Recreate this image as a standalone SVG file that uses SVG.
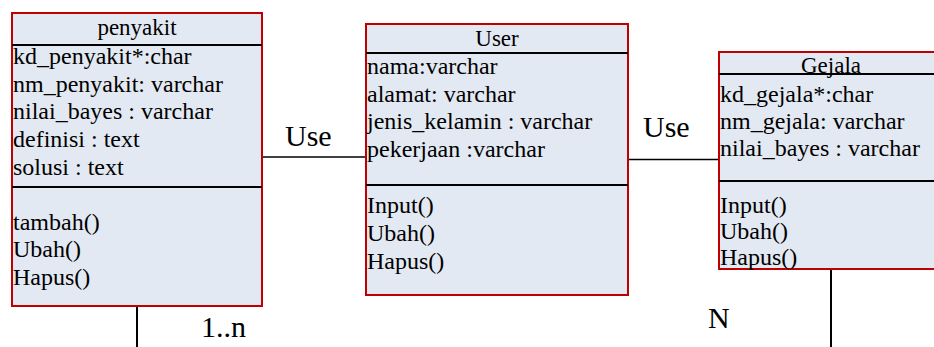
<svg xmlns="http://www.w3.org/2000/svg" width="934" height="347" viewBox="0 0 934 347">
<style>
.box{fill:#e3e9f2;stroke:#c00000;stroke-width:2}
.div{stroke:#000;stroke-width:2}
.t{font-family:"Liberation Serif","Times New Roman",serif;font-size:24px;fill:#000}
.c{text-anchor:middle;font-size:23px}
.lbl{font-family:"Liberation Serif","Times New Roman",serif;font-size:30px;fill:#000}
.ln{stroke:#000;stroke-width:1.3;fill:none}
</style>
<rect width="934" height="347" fill="#fff"/>
<g id="connectors">
<line class="ln" x1="262" y1="157" x2="366" y2="157"/>
<line class="ln" x1="628" y1="159.5" x2="719" y2="159.5"/>
<line class="ln" x1="137" y1="306" x2="137" y2="347" style="stroke-width:2"/>
<line class="ln" x1="831" y1="269" x2="831" y2="347" style="stroke-width:2"/>
<text class="lbl" x="285" y="146">Use</text>
<text class="lbl" x="643" y="137">Use</text>
<text class="lbl" x="201" y="337">1..n</text>
<text class="lbl" x="708" y="328">N</text>
</g>
<g id="penyakit">
<rect class="box" x="12" y="13" width="250" height="293"/>
<line class="div" x1="12" y1="45" x2="262" y2="45"/>
<line class="div" x1="12" y1="187" x2="262" y2="187"/>
<text class="t c" x="137" y="35">penyakit</text>
<text class="t" x="13" y="64">kd_penyakit*:char</text>
<text class="t" x="13" y="92">nm_penyakit: varchar</text>
<text class="t" x="13" y="119">nilai_bayes : varchar</text>
<text class="t" x="13" y="147">definisi : text</text>
<text class="t" x="13" y="175">solusi : text</text>
<text class="t" x="13" y="230">tambah()</text>
<text class="t" x="13" y="257">Ubah()</text>
<text class="t" x="13" y="285">Hapus()</text>
</g>
<g id="user">
<rect class="box" x="366" y="24" width="262" height="271"/>
<line class="div" x1="366" y1="53" x2="628" y2="53"/>
<line class="div" x1="366" y1="185" x2="628" y2="185"/>
<text class="t c" x="497" y="46">User</text>
<text class="t" x="367" y="74">nama:varchar</text>
<text class="t" x="367" y="102">alamat: varchar</text>
<text class="t" x="367" y="129">jenis_kelamin : varchar</text>
<text class="t" x="367" y="157">pekerjaan :varchar</text>
<text class="t" x="367" y="213">Input()</text>
<text class="t" x="367" y="241">Ubah()</text>
<text class="t" x="367" y="269">Hapus()</text>
</g>
<g id="gejala">
<rect class="box" x="719" y="52" width="224" height="217"/>
<line class="div" x1="719" y1="74" x2="943" y2="74"/>
<line class="div" x1="719" y1="181" x2="943" y2="181"/>
<text class="t c" x="831" y="73">Gejala</text>
<text class="t" x="720" y="102">kd_gejala*:char</text>
<text class="t" x="720" y="129">nm_gejala: varchar</text>
<text class="t" x="720" y="156">nilai_bayes : varchar</text>
<text class="t" x="720" y="213">Input()</text>
<text class="t" x="720" y="239">Ubah()</text>
<text class="t" x="720" y="265">Hapus()</text>
</g>
</svg>
